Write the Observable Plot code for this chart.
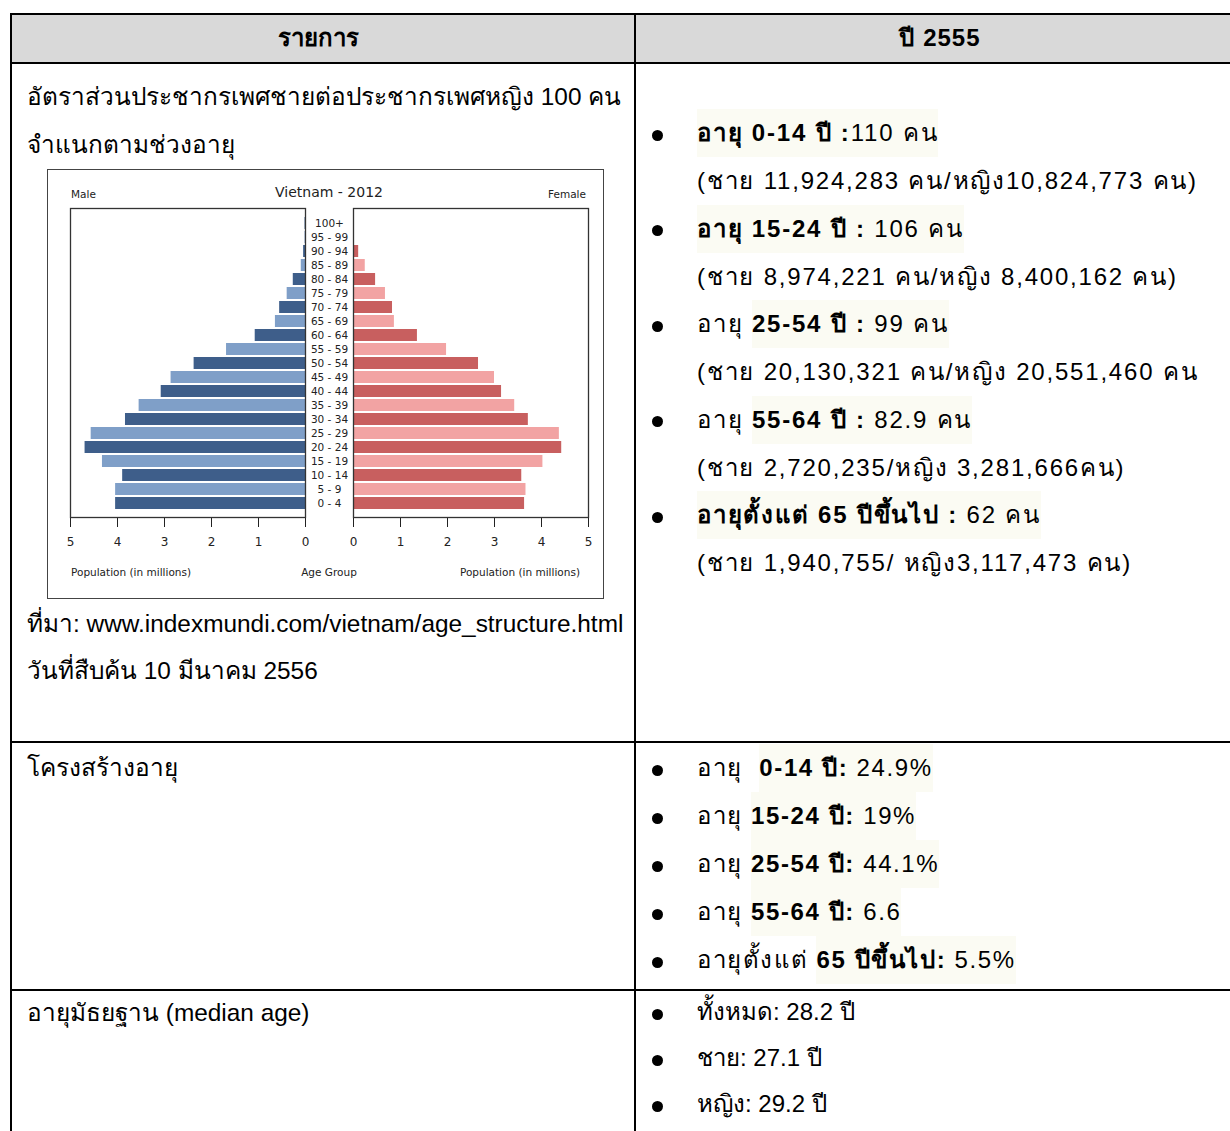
<!DOCTYPE html>
<html><head><meta charset="utf-8">
<script src="https://cdn.jsdelivr.net/npm/d3@7"></script>
<script src="https://cdn.jsdelivr.net/npm/@observablehq/plot@0.6"></script>
<style>
html,body{margin:0;padding:0;background:#fff;}
#page{position:relative;width:1230px;height:1131px;overflow:hidden;background:#fff;font-family:"Liberation Sans",Arial,"Noto Sans","DejaVu Sans",sans-serif;color:#000;}
.hl{position:absolute;background:#000;}
.vl{position:absolute;background:#000;}
.t{position:absolute;white-space:nowrap;font-size:24px;line-height:48px;height:48px;}
.mk{background:#fbfbf3;display:inline-block;}
.bul{position:absolute;width:11px;height:11px;border-radius:50%;background:#000;}
#pyr{position:absolute;left:47px;top:169px;width:557px;height:430px;border:1px solid #444;box-sizing:border-box;font-family:"DejaVu Sans",sans-serif;color:#222;}
#pyr .c{position:absolute;white-space:nowrap;}
#pyr svg{overflow:visible;position:absolute;top:0;}
</style>
</head><body>
<div id="page"></div>
<script>
// ---- chart data (Vietnam 2012 population, millions) ----
const ageGroups = ["0 - 4","5 - 9","10 - 14","15 - 19","20 - 24","25 - 29","30 - 34","35 - 39","40 - 44","45 - 49","50 - 54","55 - 59","60 - 64","65 - 69","70 - 74","75 - 79","80 - 84","85 - 89","90 - 94","95 - 99","100+"];
const maleMillions   = [4.04,4.04,3.89,4.32,4.69,4.56,3.83,3.54,3.07,2.86,2.37,1.68,1.07,0.64,0.55,0.39,0.26,0.09,0.04,0.01,0.01];
const femaleMillions = [3.64,3.67,3.58,4.03,4.43,4.38,3.72,3.43,3.15,3.00,2.66,1.98,1.36,0.87,0.83,0.68,0.47,0.25,0.11,0.02,0.01];
const xTicks = [0,1,2,3,4,5];
const chartTitle = "Vietnam - 2012";
const leftLabel = "Male", rightLabel = "Female";
const xLabel = "Population (in millions)", ageLabel = "Age Group";

// ---- table text ----
const headers = ["รายการ", "ปี 2555"];
const row1Left = ["อัตราส่วนประชากรเพศชายต่อประชากรเพศหญิง 100 คน", "จำแนกตามช่วงอายุ"];
const row1Source = ["ที่มา: www.indexmundi.com/vietnam/age_structure.html", "วันที่สืบค้น 10 มีนาคม 2556"];
const row1Right = [
  ["", "อายุ 0-14 ปี :", "110 คน", "(ชาย 11,924,283 คน/หญิง10,824,773 คน)"],
  ["", "อายุ 15-24 ปี :", " 106 คน", "(ชาย 8,974,221 คน/หญิง 8,400,162 คน)"],
  ["อายุ ", "25-54 ปี :", " 99 คน", "(ชาย 20,130,321 คน/หญิง 20,551,460 คน"],
  ["อายุ ", "55-64 ปี :", " 82.9 คน", "(ชาย 2,720,235/หญิง 3,281,666คน)"],
  ["", "อายุตั้งแต่ 65 ปีขึ้นไป :", " 62 คน", "(ชาย 1,940,755/ หญิง3,117,473 คน)"]
];
const row2Left = "โครงสร้างอายุ";
const row2Right = [
  ["อายุ&nbsp; ", "0-14 ปี:", " 24.9%"],
  ["อายุ ", "15-24 ปี:", " 19%"],
  ["อายุ ", "25-54 ปี:", " 44.1%"],
  ["อายุ ", "55-64 ปี:", " 6.6"],
  ["อายุตั้งแต่ ", "65 ปีขึ้นไป:", " 5.5%"]
];
const row3Left = "อายุมัธยฐาน (median age)";
const row3Right = ["ทั้งหมด: 28.2 ปี", "ชาย: 27.1 ปี", "หญิง: 29.2 ปี"];

const page = document.getElementById("page");
function el(cls, style, html){const d=document.createElement("div");d.className=cls;Object.assign(d.style,style);if(html!=null)d.innerHTML=html;page.appendChild(d);return d;}
function line(cy, x, html, extra){return el("t", Object.assign({left:x+"px", top:(cy-24)+"px"}, extra||{}), html);}
function bullet(cy){el("bul",{left:(657-5.5)+"px",top:(cy-3.5)+"px"});}

// header background
el("", {position:"absolute",left:"11px",top:"13px",width:"1219px",height:"50px",background:"#d9d9d9"});
// grid lines
[13,62,741,989].forEach(y=>el("hl",{left:"10px",top:y+"px",width:"1220px",height:"2px"}));
[10,634].forEach(x=>el("vl",{left:x+"px",top:"13px",width:"2px",height:"1118px"}));

// header text
el("t",{left:"12px",width:"612px",top:"14px",textAlign:"center",fontWeight:"bold"},headers[0]);
el("t",{left:"636px",width:"608px",top:"14px",textAlign:"center",fontWeight:"bold",letterSpacing:"1px"},headers[1]);

// row 1 left
const lf = {fontSize:"24.4px"};
row1Left.forEach((s,i)=>line(97+48*i, 27, s, lf));
row1Source.forEach((s,i)=>line(624+47*i, 27, s, lf));
// row 1 right
const sp = {letterSpacing:"1.8px"};
row1Right.forEach((r,i)=>{
  const cy = 133 + 95.5*i;
  bullet(cy);
  line(cy, 697, `${r[0]}<span class="mk"><b>${r[1]}</b>${r[2]}</span>`, sp);
  line(cy+48, 697, r[3], sp);
});
// row 2
line(768, 27, row2Left, lf);
row2Right.forEach((r,i)=>{
  const cy = 768 + 48*i;
  bullet(cy);
  line(cy, 697, `${r[0]}<span class="mk"><b>${r[1]}</b>${r[2]}</span>`, {letterSpacing:"1.6px"});
});
// row 3
line(1013, 27, row3Left, lf);
row3Right.forEach((s,i)=>{const cy=1012+46*i; bullet(cy); line(cy, 697, s);});

// ---- pyramid ----
const pyr = document.createElement("div"); pyr.id="pyr"; page.appendChild(pyr);
function cap(x, cy, text, size, anchor){
  const d=document.createElement("div");d.className="c";d.textContent=text;
  d.style.fontSize=size+"px";d.style.lineHeight=size*1.2+"px";d.style.top=(cy-size*0.6)+"px";
  if(anchor==="middle"){d.style.left=(x-200)+"px";d.style.width="400px";d.style.textAlign="center";}
  else if(anchor==="end"){d.style.left=(x-400)+"px";d.style.width="400px";d.style.textAlign="right";}
  else d.style.left=x+"px";
  pyr.appendChild(d);
}
cap(281, 22, chartTitle, 14, "middle");
cap(23, 24, leftLabel, 10.5, "start");
cap(538, 24, rightLabel, 10.5, "end");
cap(23, 402, xLabel, 10.5, "start");
cap(281, 402, ageLabel, 10.5, "middle");
cap(532, 402, xLabel, 10.5, "end");

const rows = ageGroups.map((a,i)=>({age:a, male:maleMillions[i], female:femaleMillions[i], shade: i%2===0 ? "dark" : "light"}));
const yDomain = ageGroups.slice().reverse();
const common = {
  height: 392, marginTop: 38, marginBottom: 45,
  style: {fontFamily:"DejaVu Sans, sans-serif", fontSize:"12px", color:"#222", background:"transparent", overflow:"visible"},
  y: {domain: yDomain, padding: 0.17, axis: null}
};
const male = Plot.plot(Object.assign({}, common, {
  width: 281, marginLeft: 22, marginRight: 24,
  x: {domain:[0,5], reverse:true, ticks:xTicks, tickFormat:"d", tickSize:10, tickPadding:10, label:null},
  color: {domain:["dark","light"], range:["#3e5e8a","#7f9fc8"]},
  marks: [
    Plot.barX(rows, {x:"male", y:"age", fill:"shade"}),
    Plot.frame({stroke:"#333", strokeWidth:1.3}),
    Plot.text(rows, {x:0, y:"age", text:"age", dx:24, textAnchor:"middle", fontSize:10.5, fill:"#222"})
  ]
}));
const female = Plot.plot(Object.assign({}, common, {
  width: 274, marginLeft: 24, marginRight: 15,
  x: {domain:[0,5], ticks:xTicks, tickFormat:"d", tickSize:10, tickPadding:10, label:null},
  color: {domain:["dark","light"], range:["#c85f5f","#f2a3a3"]},
  marks: [
    Plot.barX(rows, {x:"female", y:"age", fill:"shade"}),
    Plot.frame({stroke:"#333", strokeWidth:1.3})
  ]
}));
male.style.left="0px"; female.style.left="281px";
pyr.appendChild(male); pyr.appendChild(female);
</script>
</body></html>
